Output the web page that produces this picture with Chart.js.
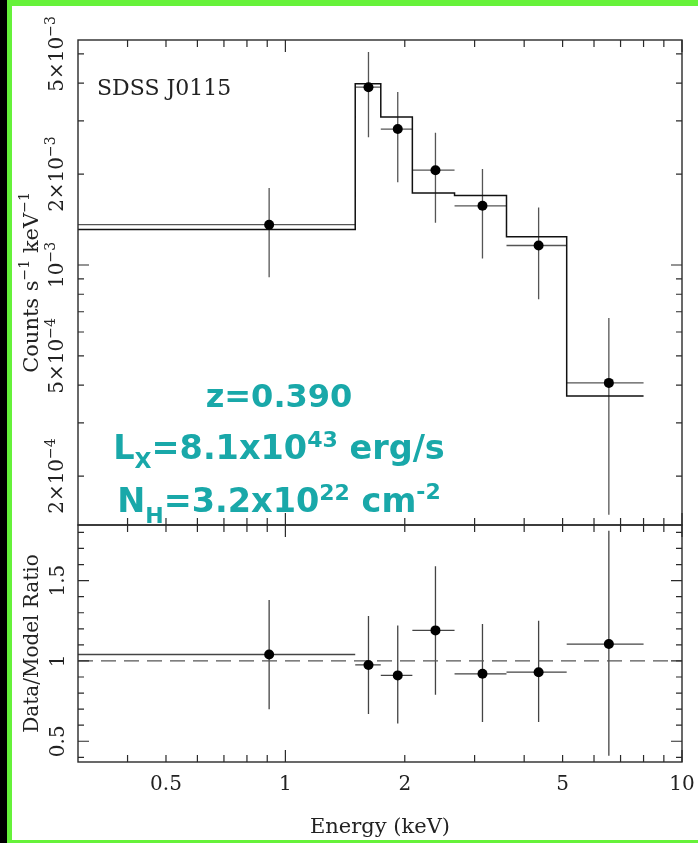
<!DOCTYPE html>
<html>
<head>
<meta charset="utf-8">
<script src="https://cdn.jsdelivr.net/npm/chart.js@4.4.1/dist/chart.umd.min.js"></script>
<style>
  html, body { margin: 0; padding: 0; background: #fff; }
  #page { position: relative; width: 698px; height: 843px; overflow: hidden; background: #fff; }
  #page canvas { position: absolute; left: 0; top: 0; }
  .edge { position: absolute; }
</style>
</head>
<body>
<div id="page">
  <div class="edge" style="left:0;top:0;width:7px;height:843px;background:#000"></div>
  <div class="edge" style="left:7px;top:0;width:5px;height:843px;background:#66f23a"></div>
  <div class="edge" style="left:7px;top:0;width:691px;height:6px;background:#66f23a"></div>
  <div class="edge" style="left:7px;top:840px;width:691px;height:3px;background:#66f23a"></div>
  <canvas id="spec" width="698" height="843"></canvas>
  <canvas id="ratio" width="698" height="843"></canvas>
</div>
<script>
// Grouped spectrum: energy bins (keV) and bin centres
const binLo  = [0.30, 1.50, 1.74, 2.09, 2.67, 3.61, 5.12];
const binHi  = [1.50, 1.74, 2.09, 2.67, 3.61, 5.12, 8.00];
const energy = [0.91, 1.62, 1.92, 2.39, 3.14, 4.35, 6.54];

// Count rate (counts s^-1 keV^-1) with 1-sigma bounds
const rate   = [1.36e-3, 3.88e-3, 2.82e-3, 2.06e-3, 1.57e-3, 1.16e-3, 4.07e-4];
const rateLo = [9.1e-4, 2.65e-3, 1.88e-3, 1.38e-3, 1.05e-3, 7.7e-4, 1.49e-4];
const rateHi = [1.80e-3, 5.07e-3, 3.74e-3, 2.74e-3, 2.08e-3, 1.55e-3, 6.68e-4];

// Folded model level in each bin
const model = [1.31e-3, 3.98e-3, 3.09e-3, 1.73e-3, 1.70e-3, 1.24e-3, 3.68e-4];

// Data / model ratio with 1-sigma bounds
const ratio   = [1.04, 0.975, 0.91, 1.19, 0.92, 0.93, 1.105];
const ratioLo = [0.70, 0.67, 0.61, 0.79, 0.62, 0.62, 0.41];
const ratioHi = [1.38, 1.28, 1.22, 1.59, 1.23, 1.25, 1.81];

// Axis ticks and labels
const energyTicks  = [0.4, 0.5, 0.6, 0.7, 0.8, 0.9, 1, 2, 3, 4, 5, 6, 7, 8, 9, 10];
const energyMajor  = [1, 10];
const energyLabels = ['0.5', '1', '2', '5', '10'];
const rateTicks    = [2e-4, 3e-4, 4e-4, 5e-4, 6e-4, 7e-4, 8e-4, 9e-4, 1e-3, 2e-3, 3e-3, 4e-3, 5e-3];
const rateMajor    = [1e-3];
const rateLabelVals = [5e-3, 2e-3, 1e-3, 5e-4, 2e-4];
const rateLabelMant = ['5×10', '2×10', '10', '5×10', '2×10'];
const rateLabelExp  = ['−3', '−3', '−3', '−4', '−4'];
const ratioTicks   = [0.4, 0.5, 0.6, 0.7, 0.8, 0.9, 1.0, 1.1, 1.2, 1.3, 1.4, 1.5, 1.6, 1.7, 1.8];
const ratioMajor   = [0.5, 1.0, 1.5];
const ratioLabels  = ['0.5', '1', '1.5'];

const SERIF = '"DejaVu Serif", "Liberation Serif", serif';
const INK = '#222';
const TEAL = '#19a8a9';

// Draw a run of text pieces (size / baseline shift) in the current transform
function richWidth(ctx, parts) {
  let w = 0;
  parts.forEach(p => { ctx.font = p.font; w += ctx.measureText(p.t).width; });
  return w;
}
function drawRich(ctx, parts, x, y, align) {
  const w = richWidth(ctx, parts);
  let u = align === 'center' ? x - w / 2 : x;
  ctx.textBaseline = 'alphabetic';
  ctx.textAlign = 'left';
  parts.forEach(p => {
    ctx.font = p.font;
    ctx.fillText(p.t, u, y + (p.dy || 0));
    u += ctx.measureText(p.t).width;
  });
}
function drawRichVertical(ctx, parts, baseX, centreY) {
  ctx.save();
  ctx.translate(baseX, centreY);
  ctx.rotate(-Math.PI / 2);
  drawRich(ctx, parts, 0, 0, 'center');
  ctx.restore();
}

// Error bars drawn from the chart's own scales
const errorBarPlugin = {
  id: 'errorBars',
  beforeDatasetsDraw(chart, args, o) {
    const { ctx, chartArea: a, scales: { x, y } } = chart;
    ctx.save();
    ctx.beginPath();
    ctx.rect(a.left, a.top, a.right - a.left, a.bottom - a.top);
    ctx.clip();
    ctx.strokeStyle = o.color;
    ctx.lineWidth = o.width;
    o.xc.forEach((xc, i) => {
      const px = x.getPixelForValue(xc);
      const py = y.getPixelForValue(o.yc[i]);
      ctx.beginPath();
      ctx.moveTo(x.getPixelForValue(o.xlo[i]), py);
      ctx.lineTo(x.getPixelForValue(o.xhi[i]), py);
      ctx.moveTo(px, y.getPixelForValue(o.ylo[i]));
      ctx.lineTo(px, y.getPixelForValue(o.yhi[i]));
      ctx.stroke();
    });
    ctx.restore();
  }
};

// Box frame with inward ticks on all four sides
const framePlugin = {
  id: 'frame',
  afterDatasetsDraw(chart, args, o) {
    const { ctx, chartArea: a, scales: { x, y } } = chart;
    ctx.save();
    ctx.strokeStyle = '#2a2a2a';
    ctx.lineWidth = 1.4;
    ctx.strokeRect(a.left, a.top, a.right - a.left, a.bottom - a.top);
    ctx.lineWidth = 1.2;
    ctx.beginPath();
    o.xTicks.forEach(v => {
      const px = x.getPixelForValue(v);
      const len = o.xMajor.includes(v) ? 12 : 7;
      ctx.moveTo(px, a.top); ctx.lineTo(px, a.top + len);
      ctx.moveTo(px, a.bottom); ctx.lineTo(px, a.bottom - len);
    });
    o.yTicks.forEach(v => {
      const py = y.getPixelForValue(v);
      const len = o.yMajor.includes(v) ? 11 : 6;
      ctx.moveTo(a.left, py); ctx.lineTo(a.left + len, py);
      ctx.moveTo(a.right, py); ctx.lineTo(a.right - len, py);
    });
    ctx.stroke();
    ctx.restore();
  }
};

// Axis labels, titles and annotations
const labelPlugin = {
  id: 'labels',
  afterDraw(chart, args, o) {
    const { ctx, chartArea: a, scales: { x, y } } = chart;
    ctx.save();
    ctx.fillStyle = INK;
    const big = '20px ' + SERIF, small = '14px ' + SERIF;
    if (o.panel === 'spec') {
      rateLabelVals.forEach((v, i) => {
        drawRichVertical(ctx, [
          { t: rateLabelMant[i], font: big },
          { t: rateLabelExp[i], font: small, dy: -8 }
        ], a.left - 15, y.getPixelForValue(v));
      });
      drawRichVertical(ctx, [
        { t: 'Counts s', font: '21px ' + SERIF },
        { t: '−1', font: small, dy: -9 },
        { t: ' keV', font: '21px ' + SERIF },
        { t: '−1', font: small, dy: -9 }
      ], a.left - 40, (a.top + a.bottom) / 2);
      ctx.font = '22px ' + SERIF;
      ctx.textAlign = 'left';
      ctx.textBaseline = 'alphabetic';
      ctx.fillText('SDSS J0115', a.left + 19, a.top + 55);
    } else {
      ratioLabels.forEach(s => {
        drawRichVertical(ctx, [{ t: s, font: big }], a.left - 14, y.getPixelForValue(parseFloat(s)));
      });
      drawRichVertical(ctx, [{ t: 'Data/Model Ratio', font: '20px ' + SERIF }], a.left - 40, (a.top + a.bottom) / 2);
      ctx.font = big;
      ctx.textAlign = 'center';
      ctx.textBaseline = 'alphabetic';
      energyLabels.forEach(s => {
        ctx.fillText(s, x.getPixelForValue(parseFloat(s)), a.bottom + 28);
      });
      ctx.font = '21px ' + SERIF;
      ctx.fillText('Energy (keV)', (a.left + a.right) / 2, a.bottom + 71);

      // source parameters
      ctx.fillStyle = TEAL;
      const f1 = 'bold 32px "DejaVu Sans", sans-serif';
      const f = 'bold 33.5px "DejaVu Sans", sans-serif';
      const s = 'bold 22px "DejaVu Sans", sans-serif';
      const cx = 279;
      drawRich(ctx, [{ t: 'z=0.390', font: f1 }], cx, 407, 'center');
      drawRich(ctx, [
        { t: 'L', font: f }, { t: 'X', font: s, dy: 9 },
        { t: '=8.1x10', font: f }, { t: '43', font: s, dy: -12 },
        { t: ' erg/s', font: f }
      ], cx, 459, 'center');
      drawRich(ctx, [
        { t: 'N', font: f }, { t: 'H', font: s, dy: 11 },
        { t: '=3.2x10', font: f }, { t: '22', font: s, dy: -12 },
        { t: ' cm', font: f }, { t: '-2', font: s, dy: -13 }
      ], cx, 512, 'center');
    }
    ctx.restore();
  }
};

const base = {
  responsive: false,
  maintainAspectRatio: false,
  animation: false,
  devicePixelRatio: 1,
  events: []
};

// Upper panel: spectrum and folded model; each model level runs from its bin's low edge to the next edge
const modelSteps = binLo.map((e, i) => ({ x: e, y: model[i] }))
  .concat([{ x: binHi[binHi.length - 1], y: model[model.length - 1] }]);

new Chart(document.getElementById('spec'), {
  type: 'scatter',
  data: {
    datasets: [
      {
        type: 'line',
        data: modelSteps,
        stepped: 'before',
        borderColor: '#111',
        borderWidth: 1.5,
        pointRadius: 0,
        fill: false,
        order: 2
      },
      {
        type: 'scatter',
        data: energy.map((e, i) => ({ x: e, y: rate[i] })),
        pointRadius: 5,
        pointBackgroundColor: '#000',
        pointBorderWidth: 0,
        order: 1
      }
    ]
  },
  options: Object.assign({}, base, {
    layout: { padding: { left: 78, top: 40, right: 16, bottom: 318 } },
    scales: {
      x: { type: 'logarithmic', min: 0.3, max: 10, display: false },
      y: { type: 'logarithmic', min: 1.377e-4, max: 5.56e-3, display: false }
    },
    plugins: {
      legend: { display: false },
      tooltip: { enabled: false },
      errorBars: { xc: energy, yc: rate, xlo: binLo, xhi: binHi, ylo: rateLo, yhi: rateHi, color: '#555', width: 1.3 },
      frame: { xTicks: energyTicks, xMajor: energyMajor, yTicks: rateTicks, yMajor: rateMajor },
      labels: { panel: 'spec' }
    }
  }),
  plugins: [errorBarPlugin, framePlugin, labelPlugin]
});

// Lower panel: data / model ratio
new Chart(document.getElementById('ratio'), {
  type: 'scatter',
  data: {
    datasets: [
      {
        type: 'line',
        data: [{ x: 0.3, y: 1 }, { x: 10, y: 1 }],
        borderColor: '#555',
        borderWidth: 1.3,
        borderDash: [15, 8],
        pointRadius: 0,
        fill: false,
        order: 2
      },
      {
        type: 'scatter',
        data: energy.map((e, i) => ({ x: e, y: ratio[i] })),
        pointRadius: 5,
        pointBackgroundColor: '#000',
        pointBorderWidth: 0,
        order: 1
      }
    ]
  },
  options: Object.assign({}, base, {
    layout: { padding: { left: 78, top: 525, right: 16, bottom: 81 } },
    scales: {
      x: { type: 'logarithmic', min: 0.3, max: 10, display: false },
      y: { type: 'linear', min: 0.371, max: 1.846, display: false }
    },
    plugins: {
      legend: { display: false },
      tooltip: { enabled: false },
      errorBars: { xc: energy, yc: ratio, xlo: binLo, xhi: binHi, ylo: ratioLo, yhi: ratioHi, color: '#444', width: 1.3 },
      frame: { xTicks: energyTicks, xMajor: energyMajor, yTicks: ratioTicks, yMajor: ratioMajor },
      labels: { panel: 'ratio' }
    }
  }),
  plugins: [errorBarPlugin, framePlugin, labelPlugin]
});
</script>
</body>
</html>
